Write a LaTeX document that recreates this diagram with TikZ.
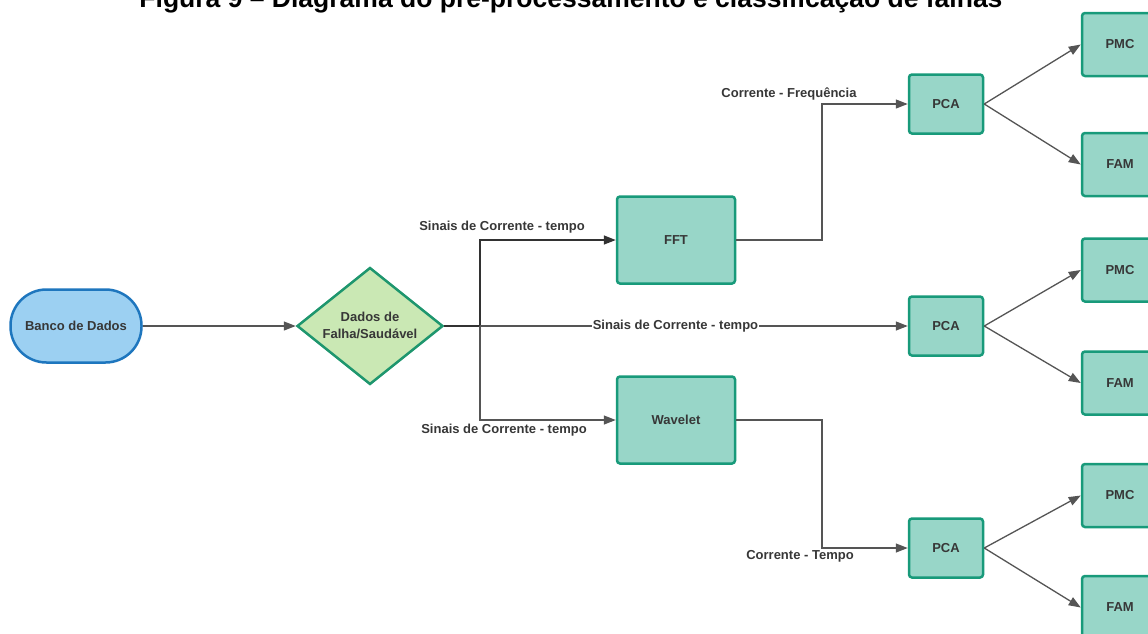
\documentclass[tikz,border=0pt]{standalone}
\usepackage{fontspec}
\setmainfont{Liberation Sans}
\usetikzlibrary{arrows.meta,shapes.geometric,calc}
\definecolor{tealfill}{RGB}{152,214,200}
\definecolor{tealdraw}{RGB}{24,154,122}
\definecolor{bluefill}{RGB}{156,208,242}
\definecolor{bluedraw}{RGB}{30,118,190}
\definecolor{greenfill}{RGB}{202,232,180}
\definecolor{greendraw}{RGB}{30,150,110}
\definecolor{txt}{RGB}{55,55,55}
\definecolor{ln}{RGB}{85,85,85}
\definecolor{lndark}{RGB}{50,50,50}
\begin{document}
\begin{tikzpicture}[x=1pt,y=-1pt,
  every node/.style={font=\fontsize{13}{17}\selectfont\bfseries, text=txt},
  bigbox/.style={draw=tealdraw, fill=tealfill, line width=2.5pt, rounded corners=3pt, minimum width=118pt, minimum height=87pt, inner sep=0pt},
  pcabox/.style={draw=tealdraw, fill=tealfill, line width=2.5pt, rounded corners=3pt, minimum width=74pt, minimum height=59pt, inner sep=0pt},
  clsbox/.style={draw=tealdraw, fill=tealfill, line width=2.5pt, rounded corners=3pt, minimum width=76pt, minimum height=63pt, inner sep=0pt},
  conn/.style={draw=ln, line width=1.3pt},
  arr/.style={conn, -{Triangle[length=12pt,width=9pt]}},
  lbl/.style={inner sep=1pt}
]
\useasboundingbox[fill=white] (0,0) rectangle (1148,633);

\node[font=\fontsize{26.5}{30}\selectfont\bfseries, text=black, anchor=base] (title) at (571,7.5) {Figura 9 – Diagrama do pré-processamento e classificação de falhas};

\node[draw=bluedraw, fill=bluefill, line width=2.5pt, rounded corners=36pt, minimum width=131pt, minimum height=73pt, inner sep=0pt] (banco) at (76,326) {Banco de Dados};

\node[diamond, draw=greendraw, fill=greenfill, line width=2.5pt, minimum width=146pt, minimum height=117pt, inner sep=0pt] (dia) at (370,326) {};
\node[align=center] (dialbl) at (370,325) {Dados de\\Falha/Saudável};

\node[bigbox] (fft) at (676,240) {FFT};
\node[bigbox] (wav) at (676,420) {Wavelet};

\node[pcabox] (pca1) at (946,104) {PCA};
\node[pcabox] (pca2) at (946,326) {PCA};
\node[pcabox] (pca3) at (946,548) {PCA};

\node[clsbox] (pmc1) at (1120,44.5) {PMC};
\node[clsbox] (fam1) at (1120,164.5) {FAM};
\node[clsbox] (pmc2) at (1120,270) {PMC};
\node[clsbox] (fam2) at (1120,383) {FAM};
\node[clsbox] (pmc3) at (1120,495.5) {PMC};
\node[clsbox] (fam3) at (1120,607.5) {FAM};

\coordinate (j) at (480,326);
\coordinate (k) at (822,326);

\draw[arr] (banco) -- (dia);
\draw[draw=lndark, line width=2.2pt] (dia.east) -- (j);
\draw[arr, draw=lndark, line width=1.6pt] (j) |- (fft.west);
\draw[arr] (j) |- (wav.west);
\draw[arr] (j) -- node[lbl, fill=white, pos=0.457] (lmid) {Sinais de Corrente - tempo} (pca2.west);

\draw[arr] (fft.east) -- (fft.east -| k) |- (pca1.west);
\draw[arr] (wav.east) -- (wav.east -| k) |- (pca3.west);

\node[lbl] (ltop) at (502,227) {Sinais de Corrente - tempo};
\node[lbl] (lbot) at (504,430) {Sinais de Corrente - tempo};
\node[lbl] (lfreq) at (789,94) {Corrente - Frequência};
\node[lbl] (ltemp) at (800,556) {Corrente - Tempo};

\draw[arr] (pca1.east) -- (pmc1.west);
\draw[arr] (pca1.east) -- (fam1.west);
\draw[arr] (pca2.east) -- (pmc2.west);
\draw[arr] (pca2.east) -- (fam2.west);
\draw[arr] (pca3.east) -- (pmc3.west);
\draw[arr] (pca3.east) -- (fam3.west);
\end{tikzpicture}
\end{document}
